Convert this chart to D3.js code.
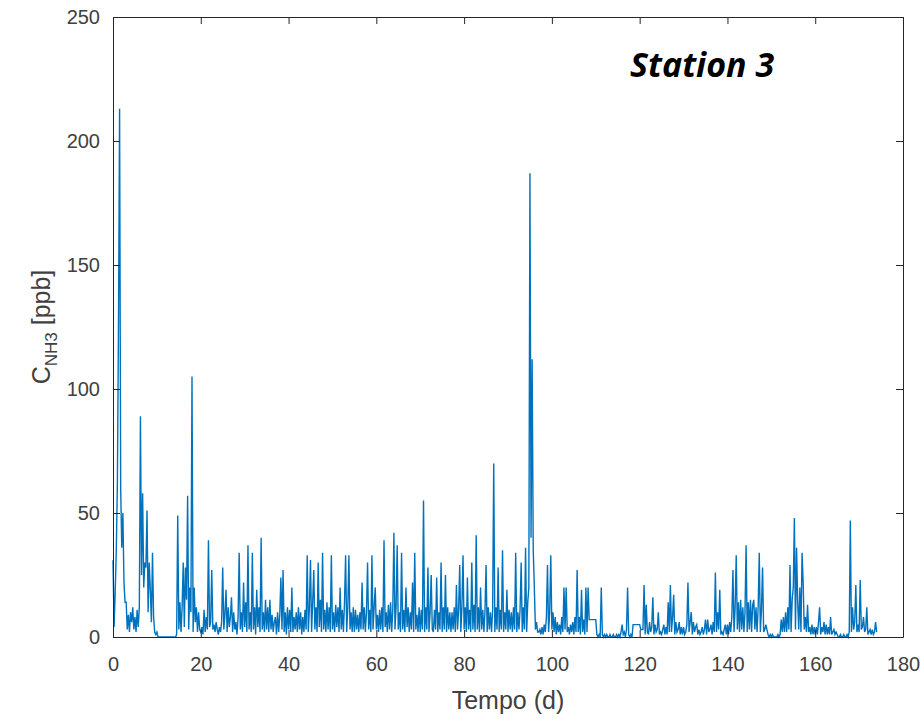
<!DOCTYPE html>
<html>
<head>
<meta charset="utf-8">
<title>Station 3</title>
<script src="https://cdn.jsdelivr.net/npm/d3@7"></script>
<style>
body { margin: 0; background: #fff; }
.tick text { font-family: "Liberation Sans", Arial, sans-serif; font-size: 20px; fill: #404040; }
.axis path, .axis line { stroke: #262626; }
</style>
</head>
<body>
<div id="chart"></div>
<script>
// NH3 concentration [ppb], one reading every 6 hours from day 0
var stepDays = 0.25;
var nh3 = [
  31,4,18,35, 62,126,213,60, 36,50,22,14, 14,3,9,2, 10,6,12,3,
  8,2,11,4, 12,89,25,58, 20,30,28,51, 10,30,19,6, 34,8,2,1,
  2,0,0,0, 0,0,0,0, 0,0,0,0, 0,0,0,0, 0,0,1,49,
  3,14,2,12, 30,4,28,15, 57,3,20,10, 105,2,20,6, 12,2,10,3,
  2,4,1,11, 2,8,3,39, 4,6,27,3, 5,2,6,3, 1,4,2,6,
  28,3,9,19, 2,12,4,8, 16,2,10,3, 6,1,8,34, 3,10,2,22,
  4,14,2,37, 3,10,2,34, 3,12,1,19, 4,12,2,40, 3,10,2,15,
  3,12,2,15, 3,9,2,6, 8,1,10,2, 9,24,3,27, 2,10,1,12,
  3,11,2,20, 2,8,3,10, 2,12,3,10, 1,8,2,11, 3,33,2,12,
  31,2,14,27, 3,12,2,30, 4,15,2,34, 3,11,2,14, 3,12,2,33,
  3,10,2,13, 4,12,2,20, 3,11,2,14, 33,2,12,33, 3,10,2,12,
  2,11,3,9, 2,10,3,22, 3,12,2,10, 30,3,11,2, 33,3,12,20,
  3,9,2,11, 3,12,2,39, 4,10,2,13, 3,14,2,11, 42,3,12,37,
  3,10,2,34, 3,11,2,20, 4,12,2,10, 3,22,2,34, 3,9,2,12,
  2,11,3,55, 2,12,3,28, 2,10,25,3, 2,11,3,24, 2,10,3,30,
  2,12,3,25, 2,12,3,10, 2,10,3,12, 2,21,3,11, 29,2,12,33,
  3,12,2,24, 3,11,2,30, 3,13,2,41, 3,12,2,20, 3,11,2,10,
  29,2,12,3, 10,2,11,70, 2,12,3,28, 2,11,3,35, 2,10,3,19,
  2,11,3,10, 2,12,3,34, 2,10,3,11, 30,2,12,3, 36,2,14,20,
  187,40,112,35, 20,3,6,2, 2,3,1,4, 1,5,2,8, 29,2,10,33,
  3,10,2,8, 1,6,2,5, 1,8,2,20, 3,20,2,4, 1,5,2,6,
  1,8,2,27, 2,8,1,19, 2,7,1,20, 2,20,7,7, 7,7,7,7,
  7,1,0,1, 0,20,1,0, 1,0,1,0, 0,1,0,0, 1,0,0,1,
  0,1,0,2, 5,1,2,0, 3,20,1,0, 1,0,5,5, 5,5,5,5,
  5,3,3,3, 21,1,13,2, 1,6,2,4, 16,1,5,2, 3,10,1,2,
  1,3,5,1, 4,1,14,2, 21,2,8,17, 1,6,2,3, 6,1,4,1,
  4,1,2,5, 22,2,6,10, 1,6,2,4, 5,1,3,1, 2,4,1,3,
  7,1,7,2, 3,5,1,6, 2,26,2,10, 3,19,1,2, 1,3,5,1,
  5,1,6,2, 8,27,2,12, 33,3,14,2, 15,3,12,2, 10,37,2,14,
  3,15,2,13, 15,3,12,2, 12,34,2,11, 28,2,3,5, 3,1,0,1,
  0,1,0,0, 0,0,1,0, 1,7,2,8, 2,10,2,12, 3,29,2,15,
  20,48,3,36, 14,3,20,2, 34,22,3,8, 2,13,2,4, 1,5,1,4,
  1,4,1,6, 12,1,4,2, 6,1,5,1, 4,1,8,1, 2,3,1,2,
  1,0,0,1, 0,0,1,0, 0,1,0,2, 47,2,12,3, 6,21,2,5,
  2,23,3,4, 8,2,3,12, 1,2,3,1, 3,1,2,6, 2
];
var xTicks = [0, 20, 40, 60, 80, 100, 120, 140, 160, 180];
var yTicks = [0, 50, 100, 150, 200, 250];

var width = 921, height = 719,
    margin = {top: 17, right: 18, bottom: 82, left: 113},
    innerW = width - margin.left - margin.right,
    innerH = height - margin.top - margin.bottom;

var svg = d3.select("#chart").append("svg")
    .attr("width", width).attr("height", height)
    .style("background", "#fff");

var x = d3.scaleLinear().domain([0, 180]).range([margin.left, margin.left + innerW]);
var y = d3.scaleLinear().domain([0, 250]).range([margin.top + innerH, margin.top]);

var line = d3.line()
    .x(function(d, i) { return x(i * stepDays); })
    .y(function(d) { return y(d); });

svg.append("path")
    .datum(nh3)
    .attr("d", line)
    .attr("fill", "none")
    .attr("stroke", "#0072BD")
    .attr("stroke-width", 1.4);

// box with inward ticks, like matlab
svg.append("g").attr("class", "axis")
    .attr("transform", "translate(0," + (margin.top + innerH) + ")")
    .call(d3.axisBottom(x).tickValues(xTicks).tickSize(-7).tickSizeOuter(0).tickPadding(20));
svg.append("g").attr("class", "axis")
    .attr("transform", "translate(0," + margin.top + ")")
    .call(d3.axisTop(x).tickValues(xTicks).tickSize(-7).tickSizeOuter(0).tickFormat(""));
svg.append("g").attr("class", "axis")
    .attr("transform", "translate(" + margin.left + ",0)")
    .call(d3.axisLeft(y).tickValues(yTicks).tickSize(-7).tickSizeOuter(0).tickPadding(13));
svg.append("g").attr("class", "axis")
    .attr("transform", "translate(" + (margin.left + innerW) + ",0)")
    .call(d3.axisRight(y).tickValues(yTicks).tickSize(-7).tickSizeOuter(0).tickFormat(""));

svg.append("text")
    .attr("x", x(90)).attr("y", 709)
    .attr("text-anchor", "middle")
    .style("font-family", "Liberation Sans, Arial, sans-serif")
    .style("font-size", "25px").style("fill", "#404040")
    .text("Tempo (d)");

var ylab = svg.append("text")
    .attr("transform", "translate(50," + (margin.top + innerH / 2) + ") rotate(-90)")
    .attr("text-anchor", "middle")
    .style("font-family", "Liberation Sans, Arial, sans-serif")
    .style("font-size", "25px").style("fill", "#404040");
ylab.append("tspan").text("C");
ylab.append("tspan").attr("dy", 7).style("font-size", "17px").text("NH3");
ylab.append("tspan").attr("dy", -7).text(" [ppb]");

svg.append("text")
    .attr("x", 630).attr("y", 77)
    .style("font-family", "Open Sans, sans-serif")
    .style("font-weight", "bold").style("font-style", "italic")
    .style("font-size", "34px").style("fill", "#000")
    .text("Station 3");
</script>
</body>
</html>
